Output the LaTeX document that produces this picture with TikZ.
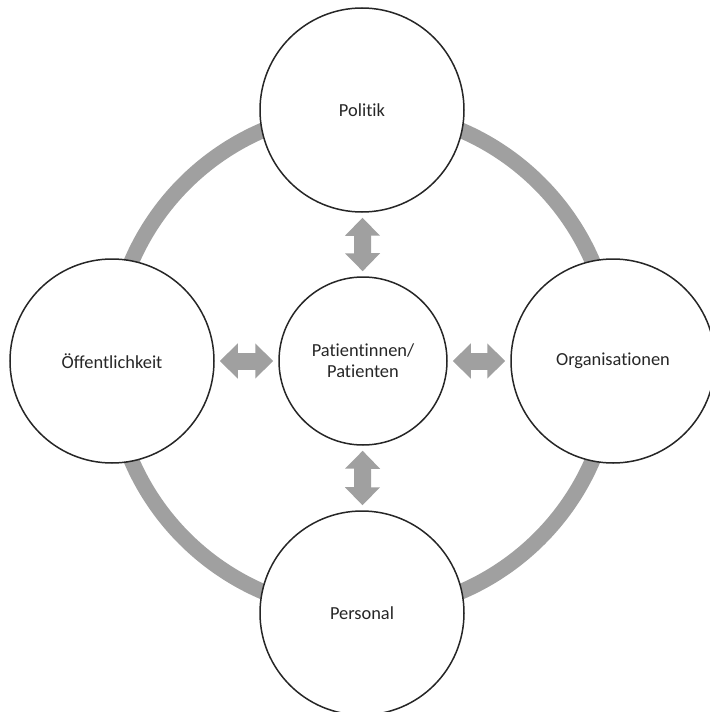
\documentclass[tikz,border=0pt]{standalone}
\usepackage{fontspec}
\setmainfont[Ligatures=NoCommon]{Carlito}
\usetikzlibrary{arrows.meta}
\definecolor{ringgray}{RGB}{160,160,160}
\begin{document}
\begin{tikzpicture}[x=0.5pt,y=-0.5pt,
  bubble/.style={circle,draw=black!85,line width=0.75pt,fill=white,inner sep=0pt,minimum size=102pt,
    text=black!85,font=\fontsize{9.2}{10.5}\selectfont},
  dblarrow/.style={draw=ringgray,line width=8.5pt,
    {Triangle[length=9pt,width=17pt]}-{Triangle[length=9pt,width=17pt]},shorten <=2.5pt,shorten >=2.5pt}]
\pgfmathsetmacro{\kring}{251}
\useasboundingbox(0,0)rectangle(709,712);
\draw[ringgray,line width=7.8pt](362,361)circle[radius=\kring];
\node[bubble](pol)at(362,110){Politik};
\node[bubble](oef)at(112,361){Öffentlichkeit};
\node[bubble](org)at(613,361){Organisationen};
\node[bubble](pers)at(362,613){Personal};
\node[bubble,minimum size=84pt,align=center](pat)at(363,361){Patientinnen/\\Patienten};
\foreach \n in {pol,oef,org,pers}{\draw[dblarrow](\n)--(pat);}
\end{tikzpicture}
\end{document}
